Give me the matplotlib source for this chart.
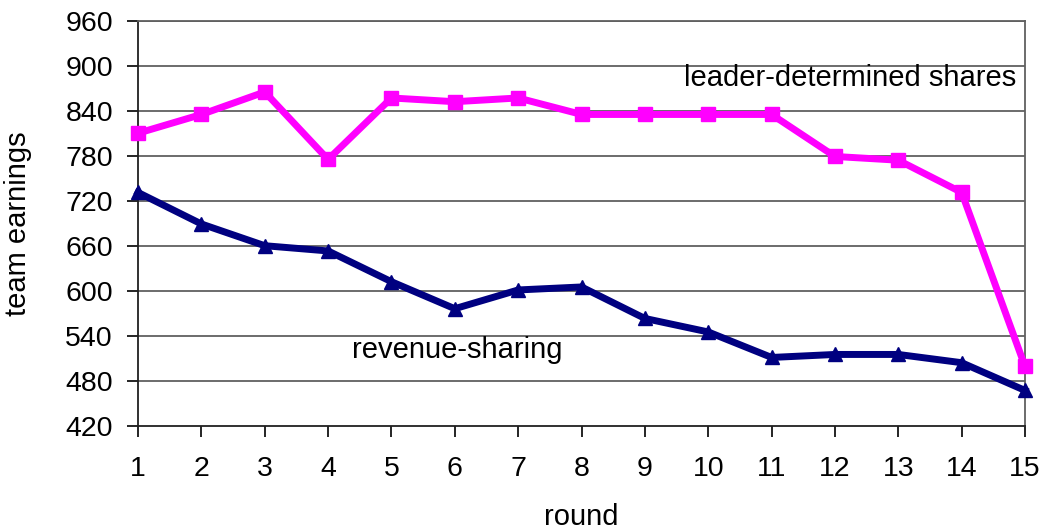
import matplotlib
matplotlib.use("Agg")
import matplotlib.pyplot as plt

# rounds of the experiment
rounds = list(range(1, 16))

# team earnings per round
leader_shares = [810, 835, 865, 775, 857, 852, 857, 835, 835, 835, 835, 779, 774, 731, 499]
revenue_sharing = [731, 689, 660, 653, 612, 576, 601, 605, 563, 545, 511, 515, 515, 504, 467]

y_ticks = list(range(420, 961, 60))

plt.rcParams['font.family'] = ['Liberation Sans', 'DejaVu Sans']

fig = plt.figure(figsize=(10.47, 5.31), dpi=100)
ax = fig.add_axes([0.1318, 0.1983, 0.8472, 0.7627])

grid_col = '#606060'
for v in y_ticks[1:]:
    ax.axhline(v, color=grid_col, linewidth=1.3, zorder=1)

ax.plot(rounds, leader_shares, color='#FF00FF', linewidth=5, marker='s',
        markersize=10, clip_on=False, zorder=3)
ax.plot(rounds, revenue_sharing, color='#000080', linewidth=5, marker='^',
        markersize=10, clip_on=False, zorder=3)

ax.text(14.86, 884, 'leader-determined shares', fontsize=21, ha='right', va='center')
ax.text(4.38, 521, 'revenue-sharing', fontsize=21, ha='left', va='center')

ax.set_xlim(1, 15)
ax.set_ylim(420, 960)
ax.set_xticks(rounds)
ax.set_yticks(y_ticks)

for side in ['top', 'right']:
    ax.spines[side].set_color(grid_col)
    ax.spines[side].set_linewidth(1.3)
for side in ['left', 'bottom']:
    ax.spines[side].set_color('#202020')
    ax.spines[side].set_linewidth(1.3)

ax.tick_params(axis='x', direction='out', length=8, width=1.2, pad=14, labelsize=20.5)
ax.tick_params(axis='y', direction='out', length=8, width=1.2, pad=10, labelsize=20.5)

ax.set_xlabel('round', fontsize=21)
ax.set_ylabel('team earnings', fontsize=21)
ax.xaxis.set_label_coords(0.5, -0.19)
ax.yaxis.set_label_coords(-0.12, 0.5)

fig.savefig('out.png', dpi=100)
